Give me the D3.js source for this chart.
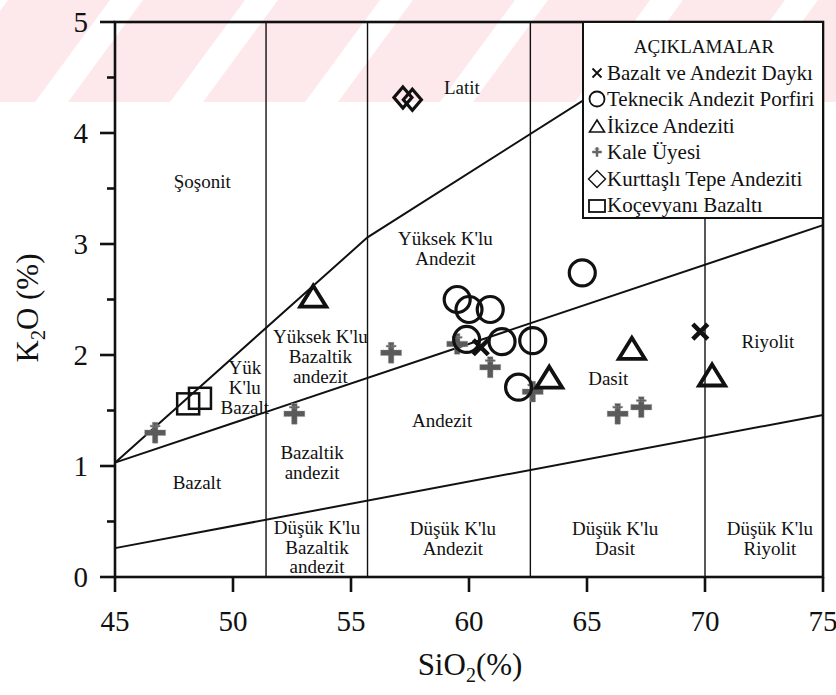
<!DOCTYPE html>
<html>
<head>
<meta charset="utf-8">
<script src="https://cdn.jsdelivr.net/npm/d3@7"></script>
<style>
  html, body { margin: 0; padding: 0; background: #fff; }
  svg { display: block; }
  text { font-family: "Liberation Serif", "Times New Roman", serif; fill: #111; }
</style>
</head>
<body>
<svg id="chart" width="836" height="695"></svg>
<script>
// ---- axis ticks ----
const sio2Ticks = [45, 50, 55, 60, 65, 70, 75];
const k2oTicks = [0, 1, 2, 3, 4, 5];
const k2oMinorTicks = [0.5, 1.5, 2.5, 3.5, 4.5];

// ---- classification boundaries (SiO2 %, K2O %) ----
const verticalBounds = [51.4, 55.7, 62.6, 70];
const shoshoniteLine = [[45, 1.03], [55.7, 3.06], [68, 4.72]];
const highKLine = [[45, 1.03], [75, 3.17]];
const lowKLine = [[45, 0.26], [75, 1.46]];

// ---- samples ----
const daykiSiO2 = [60.5, 69.8];
const daykiK2O = [2.07, 2.21];

const teknecikSiO2 = [64.8, 59.5, 60.0, 60.9, 59.9, 61.4, 62.7, 62.1];
const teknecikK2O = [2.74, 2.50, 2.41, 2.41, 2.14, 2.12, 2.13, 1.71];

const ikizceSiO2 = [53.4, 63.4, 66.9, 70.3];
const ikizceK2O = [2.53, 1.80, 2.06, 1.82];

const kaleSiO2 = [46.7, 52.6, 56.7, 59.5, 60.9, 62.7, 66.3, 67.3];
const kaleK2O = [1.30, 1.47, 2.02, 2.10, 1.89, 1.67, 1.47, 1.53];

const kurttasliSiO2 = [57.2, 57.6];
const kurttasliK2O = [4.32, 4.30];

const kocevyaniSiO2 = [48.1, 48.6];
const kocevyaniK2O = [1.56, 1.61];

const legendTitle = "AÇIKLAMALAR";
const seriesNames = [
  "Bazalt ve Andezit Daykı",
  "Teknecik Andezit Porfiri",
  "İkizce Andeziti",
  "Kale Üyesi",
  "Kurttaşlı Tepe Andeziti",
  "Koçevyanı Bazaltı"
];

// ---- field names, placed in data units ----
const fieldLabels = [
  { lines: ["Latit"], at: [59.7, 4.41] },
  { lines: ["Şoşonit"], at: [48.7, 3.56] },
  { lines: ["Yüksek K'lu", "Andezit"], at: [59.0, 2.96] },
  { lines: ["Yüksek K'lu", "Bazaltik", "andezit"], at: [53.7, 1.99] },
  { lines: ["Yük", "K'lu", "Bazalt"], at: [50.5, 1.71] },
  { lines: ["Bazaltik", "andezit"], at: [53.35, 1.03] },
  { lines: ["Bazalt"], at: [48.47, 0.85] },
  { lines: ["Düşük K'lu", "Bazaltik", "andezit"], at: [53.56, 0.27] },
  { lines: ["Andezit"], at: [58.86, 1.41] },
  { lines: ["Dasit"], at: [65.9, 1.79] },
  { lines: ["Riyolit"], at: [72.67, 2.12] },
  { lines: ["Düşük K'lu", "Andezit"], at: [59.32, 0.35] },
  { lines: ["Düşük K'lu", "Dasit"], at: [66.19, 0.35] },
  { lines: ["Düşük K'lu", "Riyolit"], at: [72.75, 0.35] }
];

const svg = d3.select("#chart");
const W = 836, H = 695;
const margin = { left: 115, right: 13, top: 22, bottom: 118 };

const x = d3.scaleLinear().domain([45, 75]).range([margin.left, W - margin.right]);
const y = d3.scaleLinear().domain([0, 5]).range([H - margin.bottom, margin.top]);

// ---- striped header band ----
const band = svg.append("g");
band.append("rect").attr("x", 0).attr("y", 0).attr("width", W).attr("height", 102).attr("fill", "#fde8ec");
for (let k = -2; k < 8; k++) {
  const o = k * 135;
  band.append("path")
    .attr("d", `M${35 + o},102 L${68 + o},102 L${143 + o},0 L${110 + o},0 Z`)
    .attr("fill", "#fff");
}

const toPx = (pts) => pts.map(p => [x(p[0]), y(p[1])]);
const line = d3.line();

// ---- field boundaries ----
const bounds = svg.append("g").attr("fill", "none").attr("stroke", "#111");
bounds.selectAll("line.v").data(verticalBounds).join("line")
  .attr("x1", d => x(d)).attr("x2", d => x(d))
  .attr("y1", y(0)).attr("y2", y(5))
  .attr("stroke-width", 1.4);
[shoshoniteLine, highKLine, lowKLine].forEach(l => {
  bounds.append("path").attr("d", line(toPx(l))).attr("stroke-width", 2);
});

// ---- axes ----
const axes = svg.append("g").attr("stroke", "#111").attr("stroke-width", 2.6).attr("fill", "none");
axes.append("rect")
  .attr("x", x(45)).attr("y", y(5))
  .attr("width", x(75) - x(45)).attr("height", y(0) - y(5));
axes.selectAll("line.yt").data(k2oTicks).join("line")
  .attr("x1", x(45) - 15).attr("x2", x(45)).attr("y1", d => y(d)).attr("y2", d => y(d));
axes.selectAll("line.ym").data(k2oMinorTicks).join("line")
  .attr("x1", x(45) - 8).attr("x2", x(45)).attr("y1", d => y(d)).attr("y2", d => y(d));
axes.selectAll("line.xt").data(sio2Ticks).join("line")
  .attr("x1", d => x(d)).attr("x2", d => x(d)).attr("y1", y(0)).attr("y2", y(0) + 15);

svg.append("g").selectAll("text").data(k2oTicks).join("text")
  .attr("x", x(45) - 27).attr("y", d => y(d)).attr("dy", "0.35em")
  .attr("text-anchor", "end").attr("font-size", 29).text(d => d);
svg.append("g").selectAll("text").data(sio2Ticks).join("text")
  .attr("x", d => x(d)).attr("y", 631)
  .attr("text-anchor", "middle").attr("font-size", 29).text(d => d);

// axis titles
const xt = svg.append("text").attr("x", 470).attr("y", 675).attr("text-anchor", "middle").attr("font-size", 31);
xt.append("tspan").text("SiO");
xt.append("tspan").attr("font-size", 20).attr("dy", 7).text("2");
xt.append("tspan").attr("dy", -7).text("(%)");

const yt = svg.append("text").attr("transform", "translate(38,308) rotate(-90)").attr("text-anchor", "middle").attr("font-size", 31);
yt.append("tspan").text("K");
yt.append("tspan").attr("font-size", 20).attr("dy", 7).text("2");
yt.append("tspan").attr("dy", -7).text("O (%)");

// ---- field names ----
const lab = svg.append("g").attr("font-size", 19).attr("text-anchor", "middle");
fieldLabels.forEach(f => {
  const t = lab.append("text").attr("x", x(f.at[0])).attr("y", y(f.at[1]));
  const n = f.lines.length;
  f.lines.forEach((s, i) => {
    t.append("tspan").attr("x", x(f.at[0]))
      .attr("dy", i === 0 ? `${0.35 - (n - 1) * 0.52}em` : "1.04em")
      .text(s);
  });
});

// ---- marker shapes ----
const triPath = (w, h) => `M0,${-h / 2} L${w / 2},${h / 2} L${-w / 2},${h / 2} Z`;
const diaPath = (w, h) => `M0,${-h / 2} L${w / 2},0 L0,${h / 2} L${-w / 2},0 Z`;
const crossPath = (s) => `M${-s},${-s} L${s},${s} M${-s},${s} L${s},${-s}`;
const kalePath = (s) => {
  const a = s * 0.25, b = s * 0.95, c = s * 0.45;
  return `M${-a},${-b} H${a} V${-a} H${b} V${a} H${a} V${b} H${-a} V${a} H${-b} V${-a} H${-a} Z` +
    `M${-c},${-b * 0.72} H${c} V${-b * 0.55} H${-c} Z`;
};
const zip = (xs, ys) => xs.map((v, i) => [v, ys[i]]);

const marks = svg.append("g");

marks.selectAll("path.kale").data(zip(kaleSiO2, kaleK2O)).join("path")
  .attr("transform", d => `translate(${x(d[0])},${y(d[1])})`)
  .attr("d", kalePath(11)).attr("fill", "#5a5a5a").attr("stroke", "#999").attr("stroke-width", 0.7)
  .attr("stroke-dasharray", "1.5 1");

marks.selectAll("rect.koc").data(zip(kocevyaniSiO2, kocevyaniK2O)).join("rect")
  .attr("x", d => x(d[0]) - 11).attr("y", d => y(d[1]) - 10.5)
  .attr("width", 22).attr("height", 21)
  .attr("fill", "none").attr("stroke", "#111").attr("stroke-width", 2.5);

marks.selectAll("path.kur").data(zip(kurttasliSiO2, kurttasliK2O)).join("path")
  .attr("transform", d => `translate(${x(d[0])},${y(d[1])})`)
  .attr("d", diaPath(18, 21)).attr("fill", "none").attr("stroke", "#111").attr("stroke-width", 3.2);

marks.selectAll("circle.tek").data(zip(teknecikSiO2, teknecikK2O)).join("circle")
  .attr("cx", d => x(d[0])).attr("cy", d => y(d[1])).attr("r", 13)
  .attr("fill", "none").attr("stroke", "#111").attr("stroke-width", 3.2);

marks.selectAll("path.iki").data(zip(ikizceSiO2, ikizceK2O)).join("path")
  .attr("transform", d => `translate(${x(d[0])},${y(d[1])})`)
  .attr("d", triPath(26, 21)).attr("fill", "none").attr("stroke", "#111")
  .attr("stroke-width", 3.8).attr("stroke-linejoin", "miter");

marks.selectAll("path.day").data(zip(daykiSiO2, daykiK2O)).join("path")
  .attr("transform", d => `translate(${x(d[0])},${y(d[1])})`)
  .attr("d", crossPath(7.5)).attr("fill", "none").attr("stroke", "#111").attr("stroke-width", 4.5);

// ---- legend ----
const lg = svg.append("g");
const lx0 = 583, ly0 = y(5), lx1 = x(75), ly1 = 218;
lg.append("rect").attr("x", lx0).attr("y", ly0).attr("width", lx1 - lx0).attr("height", ly1 - ly0)
  .attr("fill", "#fff").attr("stroke", "#111").attr("stroke-width", 2);
lg.append("text").attr("x", (lx0 + lx1) / 2 + 1).attr("y", 46).attr("dy", "0.35em")
  .attr("text-anchor", "middle").attr("font-size", 19).text(legendTitle);

const rowY = [73, 99, 126, 152, 179, 205];
const symX = 597;
const legendSymbols = [
  g => g.append("path").attr("d", crossPath(4.5)).attr("stroke", "#111").attr("stroke-width", 1.8).attr("fill", "none"),
  g => g.append("circle").attr("r", 7.5).attr("stroke", "#111").attr("stroke-width", 1.8).attr("fill", "none"),
  g => g.append("path").attr("d", triPath(15, 12)).attr("stroke", "#111").attr("stroke-width", 1.6).attr("fill", "none"),
  g => g.append("path").attr("d", kalePath(5)).attr("fill", "#666"),
  g => g.append("path").attr("d", diaPath(17, 17)).attr("stroke", "#111").attr("stroke-width", 1.4).attr("fill", "none"),
  g => g.append("rect").attr("x", -8).attr("y", -5).attr("width", 16).attr("height", 12).attr("stroke", "#111").attr("stroke-width", 1.8).attr("fill", "none")
];
seriesNames.forEach((name, i) => {
  const g = lg.append("g").attr("transform", `translate(${symX},${rowY[i]})`);
  legendSymbols[i](g);
  lg.append("text").attr("x", 607).attr("y", rowY[i]).attr("dy", "0.35em")
    .attr("font-size", 21).text(name);
});
</script>
</body>
</html>
